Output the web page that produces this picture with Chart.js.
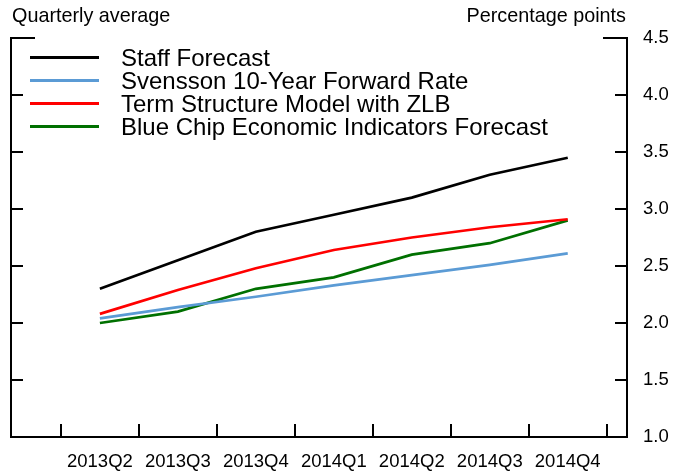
<!DOCTYPE html>
<html lang="en">
<head>
    <meta charset="UTF-8">
    <title>Forward rate forecasts</title>
    <link rel="icon" href="data:,">
    <script src="https://cdn.jsdelivr.net/npm/chart.js"></script>
    <style>
        body { margin: 0; background: #fff; }
        .wrap { position: relative; width: 687px; height: 471px; font-family: "Liberation Sans", Arial, sans-serif; color: #000; }
        .axis-title { position: absolute; top: 5px; font-size: 19.8px; line-height: 20px; white-space: nowrap; }
        .legend { position: absolute; left: 30px; top: 46px; }
        .legend-row { display: flex; align-items: center; height: 23px; font-size: 24px; line-height: 23px; white-space: nowrap; }
        .legend-line { width: 69px; height: 2.7px; margin-right: 22px; }
    </style>
</head>
<body>
    <div class="wrap">
        <canvas id="ratesChart"></canvas>
        <div class="axis-title" style="left: 12px;">Quarterly average</div>
        <div class="axis-title" style="right: 61px;">Percentage points</div>
        <div class="legend" id="legend"></div>
    </div>

    <script>
    // Data
    const quarters = ['2013Q2', '2013Q3', '2013Q4', '2014Q1', '2014Q2', '2014Q3', '2014Q4'];
    const staffForecast = [2.30, 2.55, 2.80, 2.95, 3.10, 3.30, 3.45];
    const svensson = [2.04, 2.14, 2.23, 2.33, 2.42, 2.51, 2.61];
    const termStructure = [2.08, 2.29, 2.48, 2.64, 2.75, 2.84, 2.91];
    const blueChip = [2.00, 2.10, 2.30, 2.40, 2.60, 2.70, 2.90];
    const yTicks = [1.0, 1.5, 2.0, 2.5, 3.0, 3.5, 4.0, 4.5];

    const seriesNames = [
        'Staff Forecast',
        'Svensson 10-Year Forward Rate',
        'Term Structure Model with ZLB',
        'Blue Chip Economic Indicators Forecast'
    ];
    const seriesData = [staffForecast, svensson, termStructure, blueChip];
    const seriesColors = ['#000000', '#5b9bd5', '#ff0000', '#007000'];

    const FONT = "'Liberation Sans', Arial, sans-serif";

    // html legend
    const legend = document.getElementById('legend');
    seriesNames.forEach((name, i) => {
        const row = document.createElement('div');
        row.className = 'legend-row';
        row.innerHTML = `<span class="legend-line" style="background:${seriesColors[i]}"></span><span>${name}</span>`;
        legend.appendChild(row);
    });

    // frame + inward tick marks
    const frameTicks = {
        id: 'frameTicks',
        afterDraw(chart) {
            const { ctx, chartArea: a, scales } = chart;
            ctx.save();
            ctx.strokeStyle = '#000';
            ctx.lineWidth = 2;
            ctx.lineCap = 'square';
            ctx.beginPath();
            ctx.moveTo(a.left, a.top);
            ctx.lineTo(a.left, a.bottom);
            ctx.lineTo(a.right, a.bottom);
            ctx.lineTo(a.right, a.top);
            ctx.stroke();

            ctx.lineCap = 'butt';
            ctx.beginPath();
            yTicks.forEach(v => {
                const y = Math.round(scales.y.getPixelForValue(v));
                const len = v === 4.5 ? 24 : 12;
                ctx.moveTo(a.left, y);
                ctx.lineTo(a.left + len, y);
                ctx.moveTo(a.right, y);
                ctx.lineTo(a.right - len, y);
            });
            for (let i = 0; i <= quarters.length; i++) {
                const x = Math.round(scales.x.getPixelForValue(i - 0.5));
                ctx.moveTo(x, a.bottom);
                ctx.lineTo(x, a.bottom - 13);
            }
            ctx.stroke();
            ctx.restore();
        }
    };

    new Chart(document.getElementById('ratesChart'), {
        type: 'line',
        data: {
            datasets: seriesNames.map((name, i) => ({
                label: name,
                data: seriesData[i].map((v, k) => ({ x: k, y: v })),
                borderColor: seriesColors[i],
                backgroundColor: seriesColors[i],
                borderWidth: 2.7,
                pointRadius: 0,
                tension: 0,
                fill: false
            }))
        },
        options: {
            responsive: true,
            maintainAspectRatio: false,
            animation: false,
            layout: { padding: { left: 11, top: 38, right: 0, bottom: 0 } },
            plugins: {
                legend: { display: false },
                tooltip: { enabled: false }
            },
            scales: {
                x: {
                    type: 'linear',
                    position: 'bottom',
                    min: -1.14,
                    max: 6.76,
                    afterBuildTicks: scale => {
                        scale.ticks = quarters.map((q, k) => ({ value: k }));
                    },
                    afterFit: scale => { scale.height = 34; },
                    grid: { display: false, drawTicks: false },
                    border: { display: false },
                    ticks: {
                        autoSkip: false,
                        maxRotation: 0,
                        padding: 14,
                        color: '#000',
                        font: { family: FONT, size: 18.5 },
                        callback: v => quarters[v]
                    }
                },
                y: {
                    position: 'right',
                    min: 1,
                    max: 4.5,
                    afterBuildTicks: scale => {
                        scale.ticks = yTicks.map(v => ({ value: v }));
                    },
                    afterFit: scale => { scale.width = 60; },
                    grid: { display: false, drawTicks: false },
                    border: { display: false },
                    ticks: {
                        padding: 16,
                        color: '#000',
                        font: { family: FONT, size: 18.5 },
                        callback: v => v.toFixed(1)
                    }
                }
            }
        },
        plugins: [frameTicks]
    });
    </script>
</body>
</html>
